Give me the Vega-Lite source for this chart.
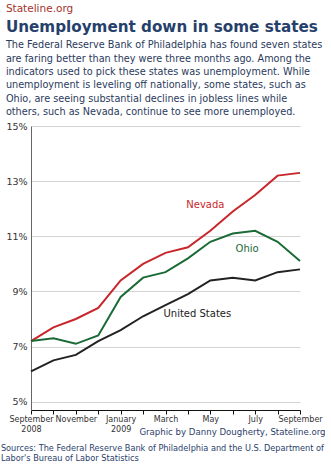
{
  "$schema": "https://vega.github.io/schema/vega-lite/v6.json",
  "background": "white",
  "padding": {"left": 0, "top": 3, "right": 0, "bottom": 0},
  "config": {"font": "DejaVu Sans", "view": {"stroke": null}},
  "title": {
    "text": ["Sources: The Federal Reserve Bank of Philadelphia and the U.S. Department of", "Labor's Bureau of Labor Statistics"],
    "orient": "bottom", "anchor": "start", "fontSize": 8.2, "fontWeight": "normal", "color": "#2b3e6b", "lineHeight": 10.5, "offset": 9, "dx": -5, "frame": "bounds"
  },
  "vconcat": [
    {
      "title": {"text": "Stateline.org", "anchor": "start", "fontSize": 10.5, "fontWeight": "normal", "color": "#a3342c", "offset": 6},
      "vconcat": [
        {
          "width": 269,
          "height": 284,
          "title": {
            "text": "Unemployment down in some states",
            "subtitle": ["The Federal Reserve Bank of Philadelphia has found seven states", "are faring better than they were three months ago. Among the", "indicators used to pick these states was unemployment. While", "unemployment is leveling off nationally, some states, such as", "Ohio, are seeing substantial declines in jobless lines while", "others, such as Nevada, continue to see more unemployed."],
            "anchor": "start", "fontSize": 15.2, "fontWeight": "bold", "color": "#263f6b",
            "subtitleFontSize": 9.7, "subtitleColor": "#2b3a5c", "subtitleLineHeight": 13.4, "subtitlePadding": 5, "offset": 4
          },
          "data": {"values": [
            {"month": "Sep 2008", "series": "Nevada", "value": 7.2},
            {"month": "Oct 2008", "series": "Nevada", "value": 7.7},
            {"month": "Nov 2008", "series": "Nevada", "value": 8.0},
            {"month": "Dec 2008", "series": "Nevada", "value": 8.4},
            {"month": "Jan 2009", "series": "Nevada", "value": 9.4},
            {"month": "Feb 2009", "series": "Nevada", "value": 10.0},
            {"month": "Mar 2009", "series": "Nevada", "value": 10.4},
            {"month": "Apr 2009", "series": "Nevada", "value": 10.6},
            {"month": "May 2009", "series": "Nevada", "value": 11.2},
            {"month": "Jun 2009", "series": "Nevada", "value": 11.9},
            {"month": "Jul 2009", "series": "Nevada", "value": 12.5},
            {"month": "Aug 2009", "series": "Nevada", "value": 13.2},
            {"month": "Sep 2009", "series": "Nevada", "value": 13.3},
            {"month": "Sep 2008", "series": "Ohio", "value": 7.2},
            {"month": "Oct 2008", "series": "Ohio", "value": 7.3},
            {"month": "Nov 2008", "series": "Ohio", "value": 7.1},
            {"month": "Dec 2008", "series": "Ohio", "value": 7.4},
            {"month": "Jan 2009", "series": "Ohio", "value": 8.8},
            {"month": "Feb 2009", "series": "Ohio", "value": 9.5},
            {"month": "Mar 2009", "series": "Ohio", "value": 9.7},
            {"month": "Apr 2009", "series": "Ohio", "value": 10.2},
            {"month": "May 2009", "series": "Ohio", "value": 10.8},
            {"month": "Jun 2009", "series": "Ohio", "value": 11.1},
            {"month": "Jul 2009", "series": "Ohio", "value": 11.2},
            {"month": "Aug 2009", "series": "Ohio", "value": 10.8},
            {"month": "Sep 2009", "series": "Ohio", "value": 10.1},
            {"month": "Sep 2008", "series": "United States", "value": 6.1},
            {"month": "Oct 2008", "series": "United States", "value": 6.5},
            {"month": "Nov 2008", "series": "United States", "value": 6.7},
            {"month": "Dec 2008", "series": "United States", "value": 7.2},
            {"month": "Jan 2009", "series": "United States", "value": 7.6},
            {"month": "Feb 2009", "series": "United States", "value": 8.1},
            {"month": "Mar 2009", "series": "United States", "value": 8.5},
            {"month": "Apr 2009", "series": "United States", "value": 8.9},
            {"month": "May 2009", "series": "United States", "value": 9.4},
            {"month": "Jun 2009", "series": "United States", "value": 9.5},
            {"month": "Jul 2009", "series": "United States", "value": 9.4},
            {"month": "Aug 2009", "series": "United States", "value": 9.7},
            {"month": "Sep 2009", "series": "United States", "value": 9.8}
          ]},
          "encoding": {
            "x": {
              "field": "month", "type": "ordinal",
              "scale": {"type": "point", "padding": 0, "domain": ["Sep 2008", "Oct 2008", "Nov 2008", "Dec 2008", "Jan 2009", "Feb 2009", "Mar 2009", "Apr 2009", "May 2009", "Jun 2009", "Jul 2009", "Aug 2009", "Sep 2009"]},
              "axis": {
                "title": "Graphic by Danny Dougherty, Stateline.org",
                "titleFontSize": 8.6, "titleFontWeight": "normal", "titleColor": "#2b3e6b",
                "titleAnchor": "end", "titleAlign": "right", "titleX": 294, "titleY": 26, "titleBaseline": "bottom",
                "labelAngle": 0, "labelFontSize": 8, "labelColor": "#333333", "labelPadding": 1, "labelLineHeight": 10,
                "labelExpr": "datum.value=='Sep 2008'?['September','2008']:datum.value=='Nov 2008'?'November':datum.value=='Jan 2009'?['January','2009']:datum.value=='Mar 2009'?'March':datum.value=='May 2009'?'May':datum.value=='Jul 2009'?'July':datum.value=='Sep 2009'?'September':''",
                "domainColor": "#111111", "domainWidth": 1, "tickColor": "#111111", "tickSize": 4, "grid": false
              }
            },
            "y": {
              "field": "value", "type": "quantitative",
              "scale": {"domain": [4.7, 15], "nice": false, "zero": false},
              "axis": {
                "title": null, "values": [5, 7, 9, 11, 13, 15], "labelExpr": "datum.value + '%'",
                "labelFontSize": 9.5, "labelColor": "#333333", "labelPadding": 4, "ticks": false,
                "domainColor": "#666666", "gridColor": "#d4d4d4", "gridWidth": 1
              }
            },
            "color": {
              "field": "series", "type": "nominal",
              "scale": {"domain": ["Nevada", "Ohio", "United States"], "range": ["#c8262b", "#1b6b37", "#222222"]},
              "legend": null
            }
          },
          "layer": [
            {"mark": {"type": "line", "strokeWidth": 2}},
            {
              "transform": [{"filter": "datum.series=='Nevada' && datum.month=='May 2009'"}],
              "mark": {"type": "text", "fontSize": 10, "dx": -5, "dy": -26, "align": "center", "baseline": "middle"},
              "encoding": {"text": {"field": "series"}}
            },
            {
              "transform": [{"filter": "datum.series=='Ohio' && datum.month=='Jul 2009'"}],
              "mark": {"type": "text", "fontSize": 10, "dx": -8, "dy": 18, "align": "center", "baseline": "middle"},
              "encoding": {"text": {"field": "series"}}
            },
            {
              "transform": [{"filter": "datum.series=='United States' && datum.month=='May 2009'"}],
              "mark": {"type": "text", "fontSize": 10, "dx": -13, "dy": 34, "align": "center", "baseline": "middle"},
              "encoding": {"text": {"field": "series"}}
            }
          ]
        }
      ]
    }
  ]
}
